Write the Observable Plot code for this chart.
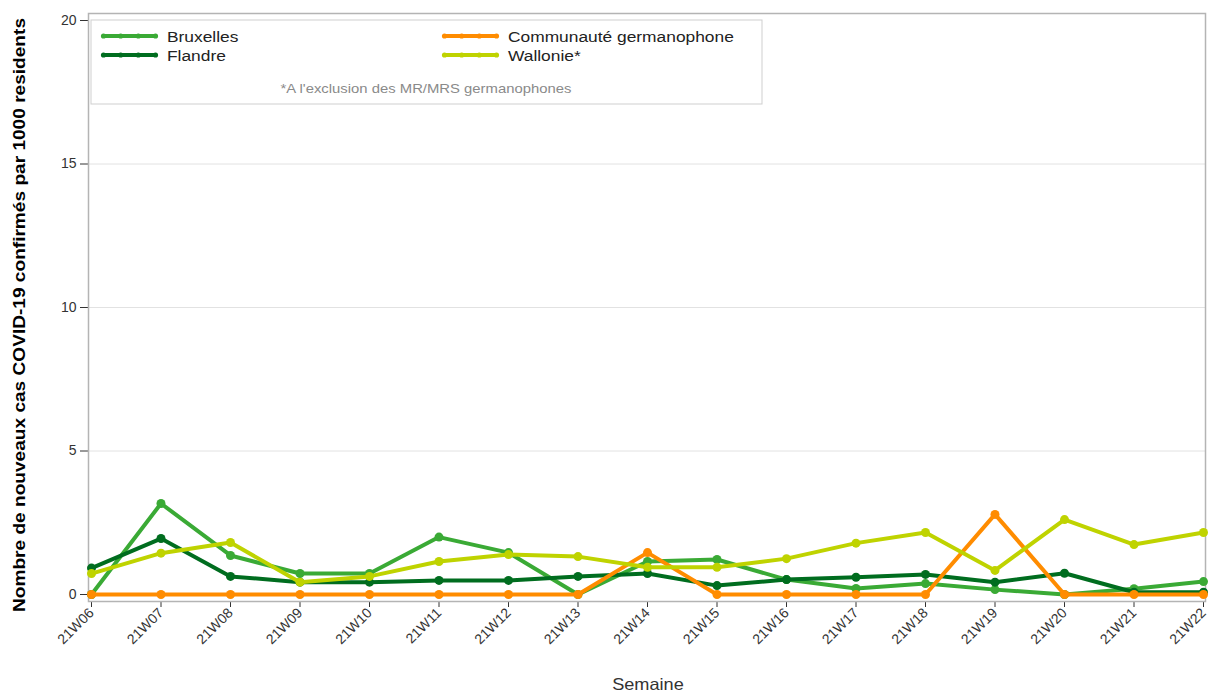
<!DOCTYPE html>
<html>
<head>
<meta charset="utf-8">
<script src="https://cdn.jsdelivr.net/npm/d3@7"></script>
<script src="https://cdn.jsdelivr.net/npm/@observablehq/plot@0.6"></script>
<style>
  html, body { margin: 0; padding: 0; background: white; }
  #chart { position: relative; width: 1208px; height: 692px; }
  #chart svg g[aria-label^="x-axis"], #chart svg g[aria-label^="y-axis"] { font-size: 14px; }
</style>
</head>
<body>
<div id="chart"></div>
<script>
const weeks = ["21W06","21W07","21W08","21W09","21W10","21W11","21W12","21W13","21W14","21W15","21W16","21W17","21W18","21W19","21W20","21W21","21W22"];
const bruxelles    = [0, 3.17, 1.36, 0.73, 0.73, 2.00, 1.46, 0, 1.15, 1.22, 0.52, 0.21, 0.38, 0.17, 0, 0.20, 0.45];
const flandre      = [0.92, 1.95, 0.63, 0.43, 0.43, 0.49, 0.49, 0.63, 0.73, 0.31, 0.52, 0.60, 0.70, 0.43, 0.74, 0.08, 0.08];
const germanophone = [0, 0, 0, 0, 0, 0, 0, 0, 1.46, 0, 0, 0, 0, 2.79, 0, 0, 0];
const wallonie     = [0.73, 1.44, 1.81, 0.43, 0.63, 1.15, 1.39, 1.32, 0.95, 0.95, 1.25, 1.79, 2.16, 0.84, 2.61, 1.74, 2.16];

const seriesNames  = ["Bruxelles", "Flandre", "Communauté germanophone", "Wallonie*"];
const seriesColors = ["#3aaa35", "#006d1f", "#ff8c00", "#bfd300"];
const seriesValues = [bruxelles, flandre, germanophone, wallonie];
const yTicks = [0, 5, 10, 15, 20];
const gridValues = [5, 10, 15];
const yTitle = "Nombre de nouveaux cas COVID-19 confirmés par 1000 residents";
const xTitle = "Semaine";
const footnote = "*A l'exclusion des MR/MRS germanophones";

const table = [];
seriesNames.forEach((name, i) => {
  weeks.forEach((w, j) => table.push({series: name, week: w, value: seriesValues[i][j]}));
});

const marks = [
  Plot.ruleY(gridValues, {stroke: "#e2e2e2", strokeWidth: 1}),
  Plot.frame({stroke: "#b4b4b4", strokeWidth: 1.5})
];
seriesNames.forEach((name, i) => {
  const d = table.filter(r => r.series === name);
  marks.push(Plot.line(d, {x: "week", y: "value", stroke: seriesColors[i], strokeWidth: 4, strokeLinejoin: "round"}));
  marks.push(Plot.dot(d, {x: "week", y: "value", fill: seriesColors[i], r: 4.5}));
});

const plot = Plot.plot({
  width: 1208,
  height: 692,
  marginTop: 13,
  marginRight: 3,
  marginBottom: 91,
  marginLeft: 88,
  style: {fontFamily: "'Liberation Sans', Arial, sans-serif", fontSize: "14px", color: "#333", background: "white"},
  x: {type: "point", domain: weeks, padding: 0, round: false, insetLeft: 3, insetRight: 2, tickRotate: -45, tickSize: 6, tickPadding: 3, label: null},
  y: {domain: [0, 20], insetTop: 7, insetBottom: 7, ticks: yTicks, tickSize: 8, tickPadding: 4, label: null},
  marks
});

document.getElementById("chart").appendChild(plot);

const svg = d3.select(plot);
const xs = plot.scale("x");
const ys = plot.scale("y");
const x0 = xs.apply(weeks[0]);
const yTop = ys.apply(20);

function stretch(sel, factor) {
  const n = sel.node();
  const len = n.getComputedTextLength();
  sel.attr("textLength", len * factor).attr("lengthAdjust", "spacingAndGlyphs");
}

// Axis titles
const yt = svg.append("text")
  .attr("transform", `translate(25,${(18 + 612) / 2}) rotate(-90)`)
  .attr("text-anchor", "middle")
  .attr("font-weight", "bold")
  .attr("font-size", 16.5)
  .attr("fill", "#000")
  .text(yTitle);
yt.attr("textLength", 594).attr("lengthAdjust", "spacingAndGlyphs");

const xt = svg.append("text")
  .attr("x", 648)
  .attr("y", 690)
  .attr("text-anchor", "middle")
  .attr("font-size", 16.5)
  .attr("fill", "#333")
  .text(xTitle);
stretch(xt, 1.1);

// Legend
const lg = svg.append("g").attr("transform", `translate(${x0},${yTop})`);
lg.append("rect").attr("width", 671).attr("height", 84).attr("fill", "white").attr("stroke", "#cfcfcf");
const cols = [11, 352];
const rows = [16, 35];
const order = [[0, 0, 0], [1, 0, 1], [2, 1, 0], [3, 1, 1]];
order.forEach(([i, c, r]) => {
  const g = lg.append("g").attr("transform", `translate(${cols[c]},${rows[r]})`);
  g.append("line").attr("x1", 0).attr("x2", 55).attr("stroke", seriesColors[i]).attr("stroke-width", 4);
  [1.5, 18.7, 36.3, 53.5].forEach(cx => g.append("circle").attr("cx", cx).attr("r", 2.6).attr("fill", seriesColors[i]));
  const t = g.append("text").attr("x", 65).attr("dy", "0.36em").attr("text-anchor", "start")
    .attr("font-size", 15.5).attr("fill", "#222").text(seriesNames[i]);
  stretch(t, 1.12);
});
const fn = lg.append("text").attr("x", 335).attr("y", 68).attr("dy", "0.35em").attr("text-anchor", "middle")
  .attr("font-size", 13.5).attr("fill", "#8a8a8a").text(footnote);
stretch(fn, 1.1);
</script>
</body>
</html>
